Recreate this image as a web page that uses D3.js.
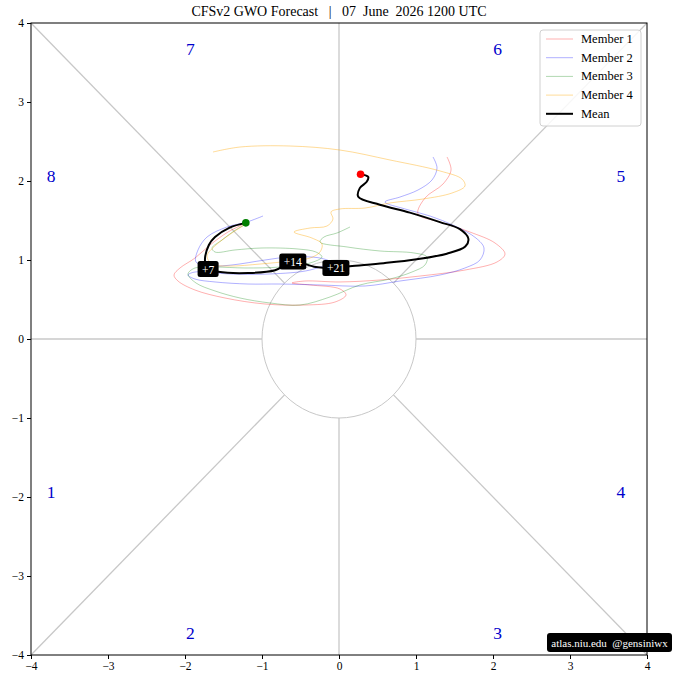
<!DOCTYPE html>
<html><head><meta charset="utf-8">
<script src="https://cdn.jsdelivr.net/npm/d3@7"></script>
<style>
html,body{margin:0;padding:0;background:#fff;}
svg text{font-family:"Liberation Serif","DejaVu Serif",serif;}
</style>
</head><body>
<svg id="chart" width="673" height="680"></svg>
<script>
// ---------------- data ----------------
const titleText = "CFSv2 GWO Forecast   |   07  June  2026 1200 UTC";
const ticks = [-4,-3,-2,-1,0,1,2,3,4];
const memberNames = ["Member 1","Member 2","Member 3","Member 4"];
const memberColors = ["#ff0000","#0000ff","#008000","#ffa500"];

const member1 = [[-1.208,1.468],[-1.442,1.354],[-1.675,1.190],[-1.870,1.025],[-2.065,0.899],[-2.143,0.810],[-2.091,0.734],[-1.870,0.620],[-1.481,0.519],[-0.961,0.443],[-0.442,0.430],[-0.052,0.468],[0.091,0.557],[0.013,0.633],[-0.377,0.684],[-0.610,0.709],[-0.442,0.734],[0.013,0.722],[0.532,0.747],[1.052,0.797],[1.636,0.873],[2.052,0.975],[2.156,1.076],[2.026,1.215],[1.701,1.354],[1.312,1.481],[1.026,1.582],[1.117,1.785],[1.351,1.962],[1.455,2.139],[1.403,2.304]];
const member2 = [[-0.987,1.557],[-1.195,1.481],[-1.455,1.418],[-1.714,1.291],[-1.831,1.127],[-1.857,0.975],[-1.675,0.924],[-1.390,0.937],[-0.961,1.000],[-0.636,1.038],[-0.247,1.025],[-0.117,0.975],[-0.377,0.873],[-0.896,0.823],[-1.416,0.823],[-1.870,0.848],[-1.961,0.810],[-1.870,0.759],[-1.610,0.722],[-1.182,0.696],[-0.766,0.696],[-0.247,0.684],[0.338,0.671],[0.792,0.734],[1.312,0.810],[1.636,0.899],[1.831,1.000],[1.883,1.152],[1.779,1.278],[1.506,1.430],[1.182,1.557],[0.857,1.646],[0.597,1.734],[0.792,1.797],[1.026,1.886],[1.208,2.013],[1.273,2.165],[1.221,2.304]];
const member3 = [[-1.208,1.456],[-1.364,1.367],[-1.519,1.253],[-1.649,1.152],[-1.610,1.101],[-1.351,1.127],[-1.000,1.152],[-0.532,1.139],[-0.299,1.101],[-0.221,1.038],[-0.377,0.962],[-0.766,0.911],[-1.221,0.899],[-1.610,0.911],[-1.870,0.899],[-1.961,0.823],[-1.857,0.709],[-1.610,0.608],[-1.286,0.519],[-0.896,0.456],[-0.506,0.430],[-0.117,0.532],[0.273,0.684],[0.662,0.759],[0.948,0.848],[1.117,0.937],[1.143,1.038],[0.974,1.089],[0.532,1.114],[0.104,1.165],[-0.247,1.228],[-0.195,1.291],[-0.026,1.342],[0.143,1.418]];
const member4 = [[-1.208,1.456],[-1.390,1.342],[-1.597,1.190],[-1.714,1.051],[-1.649,0.949],[-1.416,0.924],[-1.026,0.949],[-0.636,0.987],[-0.377,1.025],[-0.247,1.101],[-0.221,1.203],[-0.351,1.278],[-0.584,1.354],[-0.377,1.405],[-0.156,1.430],[-0.078,1.519],[-0.104,1.608],[0.013,1.646],[0.338,1.658],[0.662,1.722],[1.091,1.772],[1.468,1.848],[1.636,1.937],[1.597,2.025],[1.312,2.127],[0.662,2.266],[0.013,2.392],[-0.636,2.443],[-1.286,2.430],[-1.636,2.367]];
const members = [member1, member2, member3, member4];

const meanPath = [[-1.21,1.47],[-1.42,1.41],[-1.61,1.29],[-1.69,1.19],[-1.74,0.98],[-1.70,0.886],[-1.57,0.85],[-1.18,0.835],[-0.83,0.87],[-0.60,0.98],[-0.30,0.91],[-0.04,0.90],[0.14,0.92],[0.58,0.96],[1.01,1.01],[1.40,1.08],[1.64,1.17],[1.68,1.27],[1.57,1.39],[1.31,1.48],[0.92,1.60],[0.53,1.70],[0.25,1.80],[0.27,1.91],[0.36,1.99],[0.38,2.05],[0.28,2.085]];
const dayLabels = ["+7","+14","+21"];
const dayIndex = [5,9,11];

const phaseNums = ["1","2","3","4","5","6","7","8"];
const phaseX = [-3.74,-1.93,2.06,3.66,3.66,2.06,-1.93,-3.74];
const phaseY = [-1.94,-3.72,-3.72,-1.94,2.06,3.67,3.67,2.06];
const watermark = "atlas.niu.edu  @gensiniwx";

// ---------------- drawing ----------------
const svg = d3.select("#chart");
const L = 31, R = 647, T = 23, B = 655;
const x = d3.scaleLinear().domain([-4,4]).range([L,R]);
const y = d3.scaleLinear().domain([-4,4]).range([B,T]);
const fmt = v => (v<0 ? "\u2212"+Math.abs(v) : ""+v);

// background guide lines
const gray = "#c8c8c8";
const g0 = svg.append("g");
const r45 = Math.SQRT1_2;
const guide = [
  [[-4,0],[-1,0]],[[1,0],[4,0]],[[0,-4],[0,-1]],[[0,1],[0,4]],
  [[-4,-4],[-r45,-r45]],[[r45,r45],[4,4]],[[-4,4],[-r45,r45]],[[r45,-r45],[4,-4]]
];
guide.forEach(s => g0.append("line")
  .attr("x1",x(s[0][0])).attr("y1",y(s[0][1])).attr("x2",x(s[1][0])).attr("y2",y(s[1][1]))
  .attr("stroke",gray).attr("stroke-width",1.3));
g0.append("ellipse").attr("cx",x(0)).attr("cy",y(0))
  .attr("rx",x(1)-x(0)).attr("ry",y(0)-y(1))
  .attr("fill","none").attr("stroke",gray).attr("stroke-width",1);

// phase numbers
phaseNums.forEach((p,i)=> svg.append("text")
  .attr("x",x(phaseX[i])).attr("y",y(phaseY[i]))
  .attr("text-anchor","middle").attr("dominant-baseline","central")
  .attr("fill","#0000cc").attr("font-size",17.5).text(p));

// member lines
const line = d3.line().x(d=>x(d[0])).y(d=>y(d[1])).curve(d3.curveCatmullRom.alpha(0.5));
members.forEach((m,i)=> svg.append("path").attr("d",line(m))
  .attr("fill","none").attr("stroke",memberColors[i])
  .attr("stroke-opacity", i===3 ? 0.45 : 0.35).attr("stroke-width",0.9));

// mean
svg.append("path").attr("d",line(meanPath)).attr("fill","none")
  .attr("stroke","#000").attr("stroke-width",2);
svg.append("circle").attr("cx",x(meanPath[0][0])).attr("cy",y(meanPath[0][1])).attr("r",3.8).attr("fill","green");
const last = meanPath[meanPath.length-1];
svg.append("circle").attr("cx",x(last[0])).attr("cy",y(last[1])).attr("r",3.8).attr("fill","red");

// day labels
dayLabels.forEach((t,i)=>{
  const p = meanPath[dayIndex[i]];
  const w = t.length>2 ? 27 : 21;
  svg.append("rect").attr("x",x(p[0])-w/2).attr("y",y(p[1])-8).attr("width",w).attr("height",16)
    .attr("rx",2.5).attr("fill","#000");
  svg.append("text").attr("x",x(p[0])).attr("y",y(p[1])+0.5)
    .attr("text-anchor","middle").attr("dominant-baseline","central")
    .attr("fill","#fff").attr("font-size",11.5).text(t);
});

// frame & axes
svg.append("rect").attr("x",L).attr("y",T).attr("width",R-L).attr("height",B-T)
  .attr("fill","none").attr("stroke","#000").attr("stroke-width",1);
const xa = svg.append("g").attr("transform",`translate(0,${B})`)
  .call(d3.axisBottom(x).tickValues(ticks).tickFormat(fmt).tickSize(4).tickPadding(3));
const ya = svg.append("g").attr("transform",`translate(${L},0)`)
  .call(d3.axisLeft(y).tickValues(ticks).tickFormat(fmt).tickSize(4).tickPadding(3));
[xa,ya].forEach(a=>{
  a.select(".domain").remove();
  a.selectAll("text").attr("font-family","Liberation Serif, serif").attr("font-size",11.5).attr("fill","#000");
});

// title
svg.append("text").attr("x",(L+R)/2).attr("y",16).attr("text-anchor","middle")
  .attr("font-size",14).attr("fill","#000").attr("xml:space","preserve").style("white-space","pre").text(titleText);

// legend
const lg = svg.append("g");
lg.append("rect").attr("x",540).attr("y",30).attr("width",101).attr("height",96).attr("rx",3)
  .attr("fill","#fff").attr("fill-opacity",0.85).attr("stroke","#d0d0d0");
const legNames = memberNames.concat(["Mean"]);
legNames.forEach((n,i)=>{
  const yy = 39 + i*18.7;
  lg.append("line").attr("x1",546).attr("x2",573).attr("y1",yy).attr("y2",yy)
    .attr("stroke", i<4 ? memberColors[i] : "#000")
    .attr("stroke-opacity", i<4 ? (i===3?0.45:0.35) : 1)
    .attr("stroke-width", i<4 ? 0.9 : 2);
  lg.append("text").attr("x",581).attr("y",yy).attr("dominant-baseline","central")
    .attr("font-size",12.5).attr("fill","#000").text(n);
});

// watermark
svg.append("rect").attr("x",547).attr("y",633).attr("width",125).attr("height",19).attr("rx",3).attr("fill","#000");
svg.append("text").attr("x",609.5).attr("y",643).attr("text-anchor","middle").attr("dominant-baseline","central")
  .attr("fill","#fff").attr("font-size",11).attr("xml:space","preserve").style("white-space","pre").text(watermark);
</script>
</body></html>
